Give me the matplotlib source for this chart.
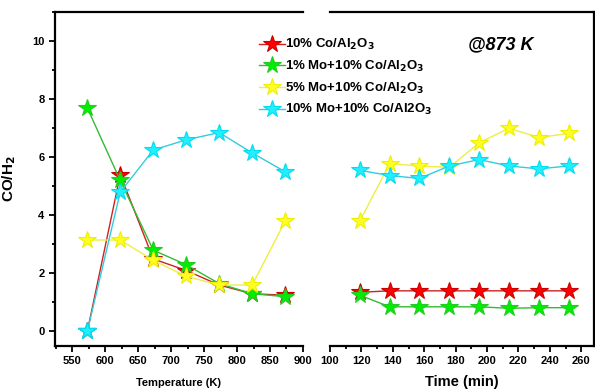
import matplotlib
matplotlib.use("Agg")
import matplotlib.pyplot as plt
from matplotlib.ticker import MultipleLocator

plt.rcParams["font.family"] = ["Liberation Sans", "DejaVu Sans"]
plt.rcParams["font.weight"] = "bold"
plt.rcParams["mathtext.default"] = "bf"

# temperature ramp (left panel)
temp = [573, 623, 673, 723, 773, 823, 873]
co_t = [0.0, 5.4, 2.5, 2.1, 1.6, 1.3, 1.25]
mo1_t = [7.7, 5.2, 2.8, 2.3, 1.65, 1.3, 1.2]
mo5_t = [3.15, 3.15, 2.45, 1.9, 1.6, 1.6, 3.8]
mo10_t = [0.0, 4.8, 6.25, 6.6, 6.85, 6.15, 5.5]

# time on stream at 873 K (right panel)
time = [119, 138, 157, 176, 195, 214, 233, 252]
co_s = [1.35, 1.4, 1.4, 1.4, 1.4, 1.4, 1.4, 1.4]
mo1_s = [1.25, 0.85, 0.85, 0.85, 0.85, 0.8, 0.82, 0.82]
mo5_s = [3.8, 5.78, 5.7, 5.65, 6.5, 7.0, 6.68, 6.82]
mo10_s = [5.55, 5.37, 5.27, 5.7, 5.92, 5.7, 5.6, 5.7]

labels = ["10% Co/Al$_2$O$_3$", "1% Mo+10% Co/Al$_2$O$_3$",
          "5% Mo+10% Co/Al$_2$O$_3$", "10% Mo+10% Co/Al2O$_3$"]
colors = ["#ff0000", "#00ee00", "#ffff22", "#22eeff"]
edges = ["#cc0000", "#22cc22", "#eeee00", "#00ddee"]
lines = ["#cc2222", "#33bb33", "#eeee44", "#33ccdd"]

fig = plt.figure(figsize=(5.95, 3.89), dpi=100)
ax1 = fig.add_axes([0.0924, 0.1105, 0.4168, 0.8585])
ax2 = fig.add_axes([0.5546, 0.1105, 0.4434, 0.8585], sharey=ax1)

handles = []
for i, (yt, ys) in enumerate(zip([co_t, mo1_t, mo5_t, mo10_t],
                                 [co_s, mo1_s, mo5_s, mo10_s])):
    kw = dict(marker="*", markersize=13, color=lines[i], lw=1.0,
              markerfacecolor=colors[i], markeredgecolor=edges[i], mew=0.8)
    h, = ax1.plot(temp, yt, **kw)
    ax2.plot(time, ys, **kw)
    handles.append(h)
# draw cyan on top at 573 K like the reference
ax1.plot(temp[:1], mo10_t[:1], marker="*", markersize=13, ls="none",
         markerfacecolor=colors[3], markeredgecolor=edges[3])

ax1.set_xlim(524, 900)
ax2.set_xlim(100, 268)
ax1.set_ylim(-0.5, 11)

ax1.xaxis.set_major_locator(MultipleLocator(50))
ax1.xaxis.set_minor_locator(MultipleLocator(25))
ax2.xaxis.set_major_locator(MultipleLocator(20))
ax2.xaxis.set_minor_locator(MultipleLocator(10))
ax1.yaxis.set_major_locator(MultipleLocator(2))
ax1.yaxis.set_minor_locator(MultipleLocator(1))

for ax in (ax1, ax2):
    for s in ax.spines.values():
        s.set_linewidth(1.6)
    ax.tick_params(which="both", direction="out", width=1.3, labelsize=8)
    ax.tick_params(which="major", length=4)
    ax.tick_params(which="minor", length=2.5)

ax1.spines["right"].set_visible(False)
ax2.spines["left"].set_visible(False)
ax2.tick_params(axis="y", which="both", left=False, labelleft=False)

ax1.set_xlabel("Temperature (K)", fontsize=8, fontweight="bold", labelpad=8)
ax2.set_xlabel("Time (min)", fontsize=10.5, fontweight="bold", labelpad=6)
ax1.set_ylabel("CO/H$_2$", fontsize=11, fontweight="bold", labelpad=10)

fig.text(0.786, 0.885, "@873 K", fontsize=13, fontweight="bold",
         style="italic", ha="left", va="center")

fig.legend(handles, labels, loc="upper left", bbox_to_anchor=(0.415, 0.935),
           frameon=False, handlelength=2.0, handletextpad=0.0,
           labelspacing=0.5, prop={"weight": "bold", "size": 9.5})

fig.savefig("out.png", dpi=100)
